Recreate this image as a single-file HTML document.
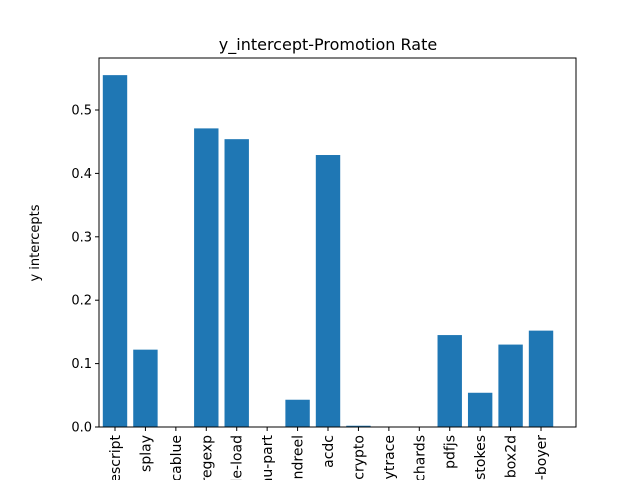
<!DOCTYPE html>
<html><head><meta charset="utf-8"><style>html,body{margin:0;background:#fff;width:640px;height:480px;overflow:hidden}svg{display:block;overflow:hidden;font-family:"DejaVu Sans","Liberation Sans",sans-serif}</style></head>
<body>
<svg id="c" width="640" height="480">
<rect x="0" y="0" width="640" height="480" fill="#fff"/>
<text x="328" y="50" font-size="16" text-anchor="middle">y_intercept-Promotion Rate</text>
<text transform="translate(39,243) rotate(-90)" font-size="13" text-anchor="middle">y intercepts</text>
<g id="bars"></g>
<g id="axes"></g>
</svg>
<script>
const categories=["typescript","splay","zlib-cablue","regexp","code-load","gbemu-part","mandreel","acdc","crypto","raytrace","richards","pdfjs","navier-stokes","box2d","earley-boyer"];
const values=[0.555,0.122,0,0.471,0.454,0,0.043,0.429,0.002,0,0,0.145,0.054,0.13,0.152];
const yTicks=[0.0,0.1,0.2,0.3,0.4,0.5];
const yTickLabels=["0.0","0.1","0.2","0.3","0.4","0.5"];
const NS="http://www.w3.org/2000/svg";
const L=99,R=576,T=58,B=427;
function xs(i){return 115+i*30.43;}
function ys(v){return B-v*634;}
const bars=document.getElementById('bars'),axes=document.getElementById('axes');
function mk(tag,attrs,parent){const e=document.createElementNS(NS,tag);for(const k in attrs)e.setAttribute(k,attrs[k]);parent.appendChild(e);return e;}
values.forEach((v,i)=>{
  const r=mk('rect',{x:xs(i)-12.2,y:ys(v),width:24.4,height:B-ys(v),fill:'#1f77b4'},bars);
  
  
});
const fr=mk('rect',{x:L,y:T,width:R-L,height:B-T,fill:'none',stroke:'#000','stroke-width':1},axes);


yTicks.forEach((t,i)=>{
  mk('line',{x1:L-4,x2:L,y1:ys(t),y2:ys(t),stroke:'#000'},axes);
  const tx=mk('text',{x:L-7,y:ys(t)+4.5,'font-size':13,'text-anchor':'end'},axes);
  tx.textContent=yTickLabels[i];
  
  
});
categories.forEach((c,i)=>{
  mk('line',{x1:xs(i),x2:xs(i),y1:B,y2:B+4,stroke:'#000'},axes);
  const tx=mk('text',{transform:`translate(${xs(i)+5},435) rotate(-90)`,'font-size':14,'text-anchor':'end'},axes);
  tx.textContent=c;
  
  
});
</script>
</body></html>
